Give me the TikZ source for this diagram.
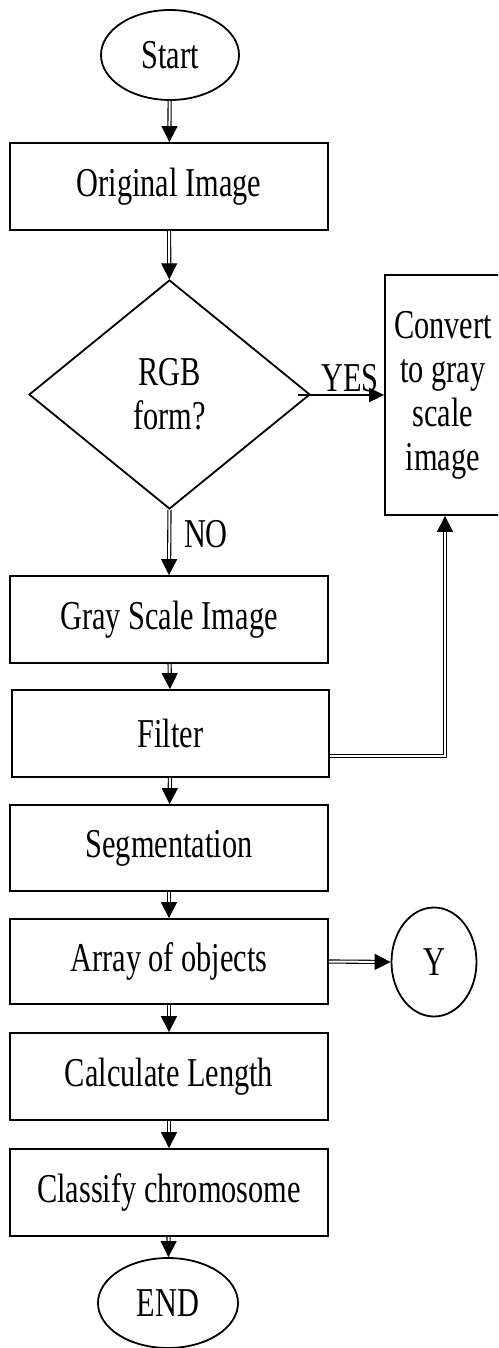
\documentclass[tikz,border=0pt]{standalone}
\usepackage{fontspec}
\setmainfont{Liberation Serif}[FakeStretch=0.74]
\usetikzlibrary{shapes.geometric,arrows.meta}
\begin{document}
\begin{tikzpicture}[x=1pt,y=-1pt,
  every node/.style={font=\fontsize{41}{44}\selectfont},
  box/.style={draw,line width=1.8pt,rectangle,inner sep=0pt,minimum width=318pt,minimum height=87pt},
  term/.style={draw,line width=1.8pt,ellipse,inner sep=0pt},
  dbl/.style={draw,double,double distance=2pt,line width=1.1pt,-{Triangle[length=16pt,width=16pt]}},
  sgl/.style={draw,line width=1.8pt,-{Triangle[length=15pt,width=14pt]}},
  lbl/.style={inner sep=0pt,anchor=base}]
\clip (0,0) rectangle (498,1348);
\fill[white] (0,0) rectangle (498,1348);
\node[term,minimum width=138pt,minimum height=90pt] (start) at (170,55) {Start};
\node[box] (orig) at (169,186.5) {Original Image};
\node[draw,line width=1.8pt,diamond,inner sep=0pt,minimum width=281pt,minimum height=229pt,align=center] (dia) at (169.5,394.5) {RGB\\form?};
\node[draw,line width=1.8pt,rectangle,inner sep=0pt,minimum width=116pt,minimum height=240pt,align=center] (conv) at (443,395) {Convert\\to gray\\scale\\image};
\node[box] (gray) at (169,619.5) {Gray Scale Image};
\node[box,minimum width=317pt] (filter) at (170.5,733.5) {Filter};
\node[box,minimum height=86pt] (seg) at (169,848) {Segmentation};
\node[box,minimum height=85pt] (arr) at (169,961.5) {Array of objects};
\node[box] (calc) at (169,1076.5) {Calculate Length};
\node[box] (cls) at (169,1192.5) {Classify chromosome};
\node[term,minimum width=140pt,minimum height=90pt] (end) at (168,1303) {END};
\node[term,minimum width=85pt,minimum height=109pt] (y) at (434,962) {Y};
\node[lbl] (yes) at (350,391) {YES};
\node[lbl] (no) at (206,547) {NO};
\coordinate (fl) at (445,756);
\coordinate (ys) at (298,395);
\draw[dbl] (start) -- (orig);
\draw[dbl] (orig) -- (dia);
\draw[sgl] (ys) -- (conv.west);
\draw[dbl] (dia.south) -- (gray.north);
\draw[dbl] (gray) -- (filter);
\draw[dbl] (filter.east |- fl) -- (fl) -- (fl |- conv.south);
\draw[dbl] (filter) -- (seg);
\draw[dbl] (seg) -- (arr);
\draw[dbl] (arr.east) -- (y.west);
\draw[dbl] (arr) -- (calc);
\draw[dbl] (calc) -- (cls);
\draw[dbl] (cls) -- (end);
\end{tikzpicture}
\end{document}
